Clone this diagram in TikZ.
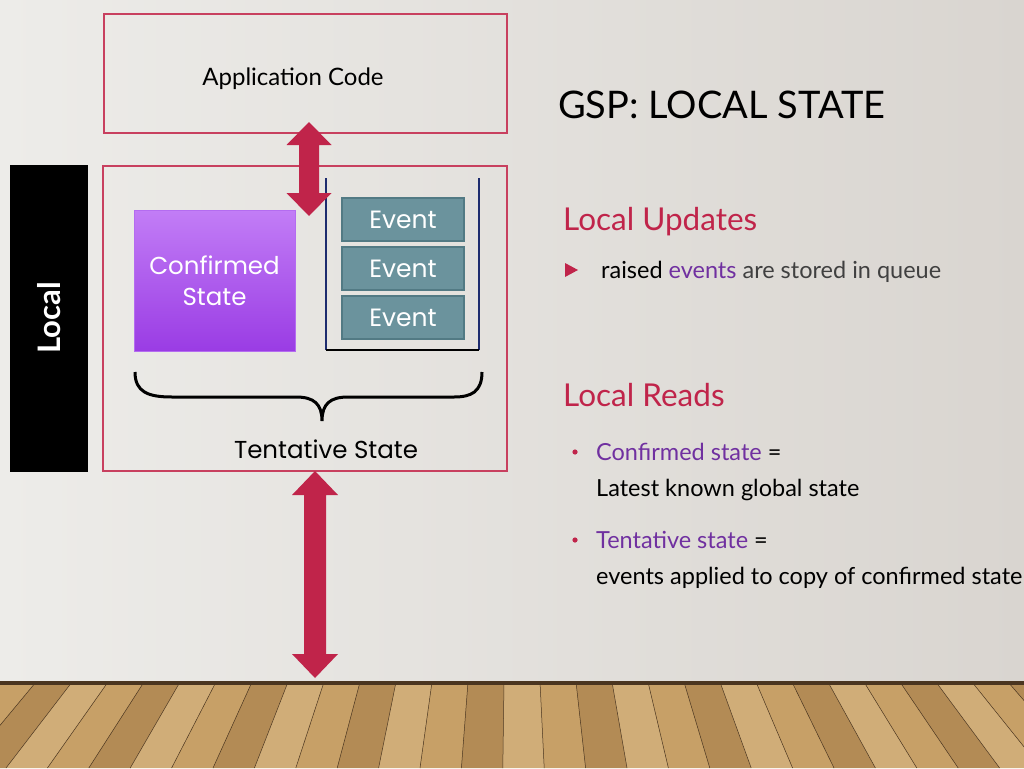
\documentclass[tikz,border=0pt]{standalone}
\usepackage{fontspec}
\setmainfont{Lato}
\newfontfamily\gothicfont{Poppins}
\usetikzlibrary{positioning, calc}

\definecolor{slidered}{HTML}{C0244A}
\definecolor{boxred}{HTML}{C8405F}
\definecolor{slidepurple}{HTML}{7030A0}
\definecolor{slidegray}{HTML}{404040}
\definecolor{eventfill}{HTML}{6B939D}
\definecolor{eventdraw}{HTML}{527A84}
\definecolor{queueblue}{HTML}{1E2C6E}
\definecolor{confirmtop}{HTML}{C27DF6}
\definecolor{confirmbot}{HTML}{9A3CE4}
\definecolor{confirmdraw}{HTML}{B46CF0}
\definecolor{bgleft}{HTML}{EDECE9}
\definecolor{bgright}{HTML}{D9D5D0}
\definecolor{wood0}{HTML}{C7A067}
\definecolor{wood1}{HTML}{B38B55}
\definecolor{wood2}{HTML}{D0AD78}
\definecolor{woodline}{HTML}{4A3520}

\begin{document}
\begin{tikzpicture}[
    x=1pt, y=-1pt,
    redbox/.style={
        draw=boxred,
        rectangle,
        line width=1.2pt,
        inner sep=0pt
    },
    eventbox/.style={
        draw=eventdraw,
        fill=eventfill,
        rectangle,
        minimum width=122pt,
        minimum height=43pt,
        inner sep=0pt,
        line width=1.5pt,
        text=white,
        font=\gothicfont\fontsize{25}{28}\selectfont
    },
    queueline/.style={
        draw=queueblue,
        line width=2.6pt
    },
    bigarrow/.style={
        fill=slidered
    },
    heading/.style={
        anchor=base west,
        inner sep=0pt,
        text=slidered,
        font=\fontsize{31.5}{36}\selectfont
    },
    body/.style={
        anchor=base west,
        inner sep=0pt,
        font=\fontsize{23.5}{28}\selectfont
    }
]
\useasboundingbox (0,0) rectangle (1024,768);

% ============================================================
% Background: wall and wooden floor
% ============================================================

\shade[left color=bgleft, right color=bgright] (0,0) rectangle (1024,684);
\fill[wood0] (0,682) rectangle (1024,768);
\foreach \i in {-3,...,30} {
    \pgfmathsetmacro\xa{\i*36}
    \pgfmathsetmacro\xb{\xa+36}
    \pgfmathtruncatemacro\k{mod(\i+9,3)}
    \fill[wood\k] (\xa,682) -- (\xb,682)
        -- ({512+(\xb-512)*1.15},768) -- ({512+(\xa-512)*1.15},768) -- cycle;
    \draw[woodline, line width=0.5pt] (\xa,682) -- ({512+(\xa-512)*1.15},768);
}
\fill[woodline] (0,681) rectangle (1024,685);

% ============================================================
% Left: application code and local state
% ============================================================

\node[redbox, minimum width=403pt, minimum height=119pt] (app) at (305.5,73.5) {};
\node[font=\fontsize{24}{28}\selectfont] (applbl) at (293,79) {Application Code};

\node[redbox, minimum width=404pt, minimum height=305pt] (state) at (305,318.5) {};

\node[fill=black, minimum width=78pt, minimum height=307pt, inner sep=0pt] (local) at (49,318) {};
\node[rotate=90, text=white, font=\bfseries\fontsize{31}{34}\selectfont] (locallbl) at (local.center) {Local};

\shade[top color=confirmtop, bottom color=confirmbot] (134,210) rectangle (295,351);
\node[draw=confirmdraw, line width=1pt, minimum width=161pt, minimum height=141pt,
    inner sep=0pt, align=center, text=white,
    font=\gothicfont\fontsize{24.5}{31}\selectfont] (confirmed) at (214.5,280.5) {Confirmed\\State};

\foreach \i/\y in {1/219.5, 2/268.5, 3/317.5} {
    \node[eventbox] (ev\i) at (403,\y) {Event};
}

\coordinate (qtl) at (326,178);
\coordinate (qbl) at (326,350);
\coordinate (qbr) at (479,350);
\coordinate (qtr) at (479,178);
\draw[queueline] (qtl) -- (qbl);
\draw[queueline] (qbr) -- (qtr);
\draw[line width=2.6pt] (qbl) -- (qbr);

% brace under both parts
\coordinate (bl) at (135,372);
\coordinate (bm) at (322,421);
\coordinate (br) at (482,372);
\draw[line width=3pt] (bl) .. controls (135,392) and (148,397) .. (172,397)
    -- (296,397) .. controls (314,397) and (322,404) .. (bm)
    .. controls (322,404) and (330,397) .. (348,397)
    -- (454,397) .. controls (471,397) and (482,392) .. (br);
\node[font=\gothicfont\fontsize{24.5}{28}\selectfont] (tentative) at (326,449) {Tentative State};

% fat double arrows
\foreach \cx/\ya/\yb/\hw/\sw/\hl in {309/122/216/22.5/10/23, 315/471/678/23/11/24} {
    \fill[bigarrow] (\cx,\ya) -- ({\cx+\hw},{\ya+\hl}) -- ({\cx+\sw},{\ya+\hl})
        -- ({\cx+\sw},{\yb-\hl}) -- ({\cx+\hw},{\yb-\hl}) -- (\cx,\yb)
        -- ({\cx-\hw},{\yb-\hl}) -- ({\cx-\sw},{\yb-\hl})
        -- ({\cx-\sw},{\ya+\hl}) -- ({\cx-\hw},{\ya+\hl}) -- cycle;
}

% ============================================================
% Right: title and notes
% ============================================================

\node[anchor=base west, inner sep=0pt, font=\fontsize{38}{42}\selectfont] (title) at (558,118) {GSP: LOCAL STATE};

\node[heading] (upd) at (563,230) {Local Updates};
\fill[slidered] (565,263) -- (578,270) -- (565,277) -- cycle;
\node[body] (updtxt) at (601,278) {raised \textcolor{slidepurple}{events} \textcolor{slidegray}{are stored in queue}};

\node[heading] (reads) at (563,406) {Local Reads};
\fill[slidered] (575,452) circle (2.6);
\node[body] (conf) at (596,460) {\textcolor{slidepurple}{Confirmed state} =};
\node[body] (confdef) at (596,496) {Latest known global state};
\fill[slidered] (575,540) circle (2.6);
\node[body] (tent) at (596,548) {\textcolor{slidepurple}{Tentative state} =};
\node[body] (tentdef) at (596,584) {events applied to copy of confirmed state};

\end{tikzpicture}
\end{document}
